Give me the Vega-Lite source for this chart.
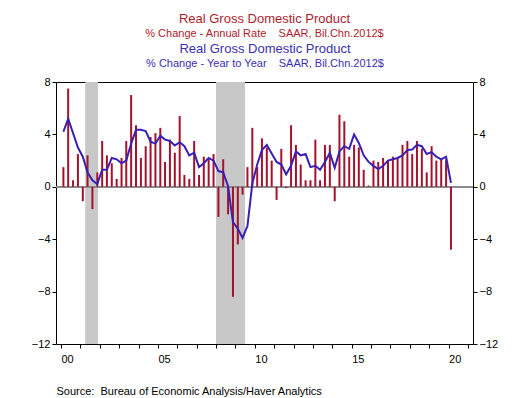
{
  "$schema": "https://vega.github.io/schema/vega-lite/v6.json",
  "width": 417,
  "height": 262,
  "autosize": "none",
  "padding": {"left": 56, "top": 82, "right": 57, "bottom": 54},
  "background": "white",
  "config": {
    "font": "Liberation Sans",
    "view": {"stroke": "#000000", "strokeWidth": 1}
  },
  "title": {
    "text": "Real Gross Domestic Product",
    "subtitle": "% Change - Annual Rate\u00a0\u00a0\u00a0\u00a0SAAR, Bil.Chn.2012$",
    "color": "#b01c2e",
    "subtitleColor": "#b01c2e",
    "font": "Liberation Sans",
    "subtitleFont": "Liberation Sans",
    "fontSize": 13,
    "subtitleFontSize": 11,
    "fontWeight": "normal",
    "anchor": "middle",
    "offset": 3,
    "subtitlePadding": 2
  },
  "datasets": {
    "gdp": [
      {"date": "2000-02-15", "ar": 1.5, "yoy": 4.2},
      {"date": "2000-05-15", "ar": 7.5, "yoy": 5.2},
      {"date": "2000-08-15", "ar": 0.5, "yoy": 4.1},
      {"date": "2000-11-15", "ar": 2.5, "yoy": 3.0},
      {"date": "2001-02-15", "ar": -1.1, "yoy": 2.3},
      {"date": "2001-05-15", "ar": 2.4, "yoy": 1.1},
      {"date": "2001-08-15", "ar": -1.7, "yoy": 0.5},
      {"date": "2001-11-15", "ar": 1.1, "yoy": 0.2},
      {"date": "2002-02-15", "ar": 3.5, "yoy": 1.3},
      {"date": "2002-05-15", "ar": 2.4, "yoy": 1.3},
      {"date": "2002-08-15", "ar": 1.8, "yoy": 2.2},
      {"date": "2002-11-15", "ar": 0.6, "yoy": 2.1},
      {"date": "2003-02-15", "ar": 2.2, "yoy": 1.8},
      {"date": "2003-05-15", "ar": 3.5, "yoy": 2.0},
      {"date": "2003-08-15", "ar": 7.0, "yoy": 3.3},
      {"date": "2003-11-15", "ar": 4.7, "yoy": 4.35},
      {"date": "2004-02-15", "ar": 2.2, "yoy": 4.35},
      {"date": "2004-05-15", "ar": 3.1, "yoy": 4.25},
      {"date": "2004-08-15", "ar": 3.8, "yoy": 3.45},
      {"date": "2004-11-15", "ar": 4.1, "yoy": 3.3},
      {"date": "2005-02-15", "ar": 4.5, "yoy": 3.9},
      {"date": "2005-05-15", "ar": 1.9, "yoy": 3.6},
      {"date": "2005-08-15", "ar": 3.6, "yoy": 3.5},
      {"date": "2005-11-15", "ar": 2.6, "yoy": 3.15},
      {"date": "2006-02-15", "ar": 5.4, "yoy": 3.4},
      {"date": "2006-05-15", "ar": 0.9, "yoy": 3.1},
      {"date": "2006-08-15", "ar": 0.6, "yoy": 2.4},
      {"date": "2006-11-15", "ar": 3.5, "yoy": 2.6},
      {"date": "2007-02-15", "ar": 0.9, "yoy": 1.5},
      {"date": "2007-05-15", "ar": 2.3, "yoy": 1.8},
      {"date": "2007-08-15", "ar": 2.2, "yoy": 2.2},
      {"date": "2007-11-15", "ar": 2.5, "yoy": 2.0},
      {"date": "2008-02-15", "ar": -2.3, "yoy": 1.2},
      {"date": "2008-05-15", "ar": 2.1, "yoy": 1.1},
      {"date": "2008-08-15", "ar": -2.1, "yoy": 0.05},
      {"date": "2008-11-15", "ar": -8.4, "yoy": -2.7},
      {"date": "2009-02-15", "ar": -4.4, "yoy": -3.2},
      {"date": "2009-05-15", "ar": -0.6, "yoy": -3.9},
      {"date": "2009-08-15", "ar": 1.5, "yoy": -3.0},
      {"date": "2009-11-15", "ar": 4.5, "yoy": 0.25},
      {"date": "2010-02-15", "ar": 1.5, "yoy": 1.7},
      {"date": "2010-05-15", "ar": 3.7, "yoy": 2.8},
      {"date": "2010-08-15", "ar": 3.0, "yoy": 3.2},
      {"date": "2010-11-15", "ar": 2.0, "yoy": 2.55},
      {"date": "2011-02-15", "ar": -1.0, "yoy": 1.9},
      {"date": "2011-05-15", "ar": 2.9, "yoy": 1.7},
      {"date": "2011-08-15", "ar": -0.1, "yoy": 0.95},
      {"date": "2011-11-15", "ar": 4.7, "yoy": 1.6},
      {"date": "2012-02-15", "ar": 3.2, "yoy": 2.7},
      {"date": "2012-05-15", "ar": 1.7, "yoy": 2.4},
      {"date": "2012-08-15", "ar": 0.5, "yoy": 2.5},
      {"date": "2012-11-15", "ar": 0.5, "yoy": 1.5},
      {"date": "2013-02-15", "ar": 3.6, "yoy": 1.6},
      {"date": "2013-05-15", "ar": 0.5, "yoy": 1.3},
      {"date": "2013-08-15", "ar": 3.2, "yoy": 1.9},
      {"date": "2013-11-15", "ar": 3.2, "yoy": 2.6},
      {"date": "2014-02-15", "ar": -1.1, "yoy": 1.45},
      {"date": "2014-05-15", "ar": 5.5, "yoy": 2.7},
      {"date": "2014-08-15", "ar": 5.0, "yoy": 3.1},
      {"date": "2014-11-15", "ar": 2.3, "yoy": 2.9},
      {"date": "2015-02-15", "ar": 3.2, "yoy": 4.0},
      {"date": "2015-05-15", "ar": 3.0, "yoy": 3.35},
      {"date": "2015-08-15", "ar": 1.3, "yoy": 2.4},
      {"date": "2015-11-15", "ar": 0.1, "yoy": 1.9},
      {"date": "2016-02-15", "ar": 2.0, "yoy": 1.6},
      {"date": "2016-05-15", "ar": 1.9, "yoy": 1.35},
      {"date": "2016-08-15", "ar": 2.2, "yoy": 1.6},
      {"date": "2016-11-15", "ar": 2.0, "yoy": 2.0},
      {"date": "2017-02-15", "ar": 2.3, "yoy": 2.1},
      {"date": "2017-05-15", "ar": 2.2, "yoy": 2.2},
      {"date": "2017-08-15", "ar": 3.2, "yoy": 2.4},
      {"date": "2017-11-15", "ar": 3.5, "yoy": 2.8},
      {"date": "2018-02-15", "ar": 2.5, "yoy": 2.85},
      {"date": "2018-05-15", "ar": 3.5, "yoy": 3.2},
      {"date": "2018-08-15", "ar": 2.9, "yoy": 3.1},
      {"date": "2018-11-15", "ar": 1.1, "yoy": 2.5},
      {"date": "2019-02-15", "ar": 3.1, "yoy": 2.65},
      {"date": "2019-05-15", "ar": 2.0, "yoy": 2.3},
      {"date": "2019-08-15", "ar": 2.1, "yoy": 2.1},
      {"date": "2019-11-15", "ar": 2.1, "yoy": 2.3},
      {"date": "2020-02-15", "ar": -4.8, "yoy": 0.3}
    ],
    "recessions": [
      {"start": "2001-04-01", "end": "2001-12-01"},
      {"start": "2008-01-01", "end": "2009-07-01"}
    ]
  },
  "layer": [
    {
      "data": {"name": "recessions"},
      "mark": {"type": "rect", "color": "#c8c8c8"},
      "encoding": {
        "x": {
          "field": "start",
          "type": "temporal",
          "scale": {"type": "utc", "domain": [{"year": 2000, "month": 1, "date": 1, "utc": true}, {"year": 2021, "month": 1, "date": 1, "utc": true}]},
          "axis": {
            "orient": "top",
            "title": "Real Gross Domestic Product",
            "titleColor": "#3a2fb0",
            "titleFontSize": 13,
            "titleFont": "Liberation Sans",
            "titleFontWeight": "normal",
            "titleBaseline": "alphabetic",
            "titlePadding": 30,
            "domain": false,
            "ticks": false,
            "labels": false,
            "grid": false
          }
        },
        "x2": {"field": "end"}
      }
    },
    {
      "data": {"name": "gdp"},
      "mark": {"type": "rule", "color": "#8c8c8c", "strokeWidth": 1},
      "encoding": {
        "y": {
          "datum": 0,
          "type": "quantitative",
          "scale": {"domain": [-12, 8], "nice": false, "zero": false},
          "axis": {
            "orient": "right",
            "title": null,
            "values": [-12, -8, -4, 0, 4, 8],
            "grid": false,
            "domain": false,
            "tickSize": 4,
            "tickColor": "#000000",
            "labelFontSize": 11,
            "labelColor": "#000000",
            "labelFont": "Liberation Sans",
            "labelPadding": 2
          }
        }
      }
    },
    {
      "data": {"name": "gdp"},
      "mark": {"type": "bar", "color": "#a3122c", "size": 2},
      "encoding": {
        "x": {
          "field": "date",
          "type": "temporal",
          "axis": {
            "orient": "bottom",
            "tickCount": {"interval": "year", "step": 1},
            "labelExpr": "utcyear(datum.value) % 5 == 0 ? utcFormat(datum.value, '%y') : ''",
            "labelAlign": "left",
            "labelDx": 2,
            "labelFontSize": 11,
            "labelColor": "#000000",
            "labelFont": "Liberation Sans",
            "labelPadding": 5,
            "tickSize": 4,
            "tickColor": "#000000",
            "domain": false,
            "grid": false,
            "title": "Source:\u00a0\u00a0Bureau of Economic Analysis/Haver Analytics",
            "titleAnchor": "start",
            "titleAlign": "left",
            "titleFontSize": 11,
            "titleFont": "Liberation Sans",
            "titleFontWeight": "normal",
            "titleColor": "#000000",
            "titlePadding": 21
          }
        },
        "y": {
          "field": "ar",
          "type": "quantitative",
          "axis": {
            "orient": "left",
            "title": null,
            "values": [-12, -8, -4, 0, 4, 8],
            "grid": false,
            "domain": false,
            "tickSize": 4,
            "tickColor": "#000000",
            "labelFontSize": 11,
            "labelColor": "#000000",
            "labelFont": "Liberation Sans",
            "labelPadding": 2
          }
        }
      }
    },
    {
      "data": {"name": "gdp"},
      "mark": {"type": "line", "color": "#3a1fb5", "strokeWidth": 2},
      "encoding": {
        "x": {
          "field": "date",
          "type": "temporal",
          "axis": {
            "orient": "top",
            "title": "% Change - Year to Year\u00a0\u00a0\u00a0\u00a0SAAR, Bil.Chn.2012$",
            "titleColor": "#3a2fb0",
            "titleFontSize": 11,
            "titleFont": "Liberation Sans",
            "titleFontWeight": "normal",
            "titleBaseline": "alphabetic",
            "titlePadding": 16,
            "domain": false,
            "ticks": false,
            "labels": false,
            "grid": false
          }
        },
        "y": {"field": "yoy", "type": "quantitative", "axis": null}
      }
    }
  ]
}
